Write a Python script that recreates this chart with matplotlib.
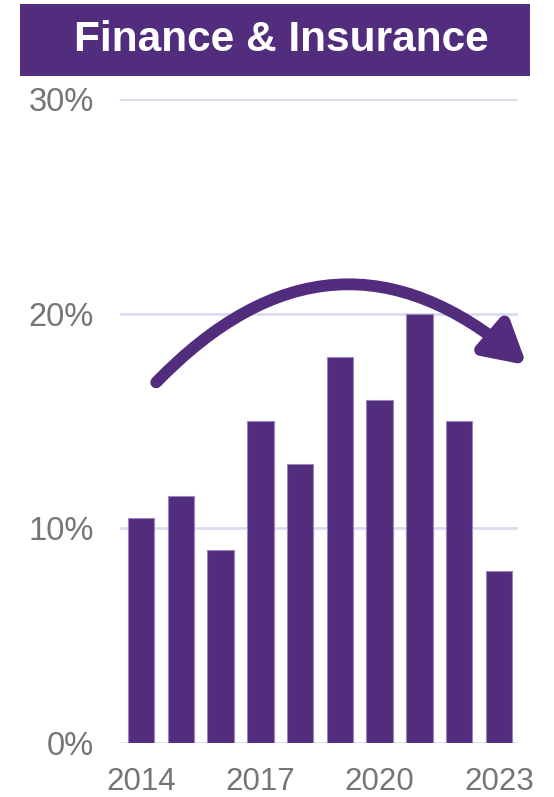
import matplotlib
matplotlib.use("Agg")
import matplotlib.pyplot as plt
from matplotlib.patches import Rectangle
from matplotlib.ticker import FuncFormatter

years = [2014, 2015, 2016, 2017, 2018, 2019, 2020, 2021, 2022, 2023]
values = [10.5, 11.5, 9.0, 15.0, 13.0, 18.0, 16.0, 20.0, 15.0, 8.0]
shown_years = [2014, 2017, 2020, 2023]
y_ticks = [0, 10, 20, 30]
title = "Finance & Insurance"

purple = "#522D7E"
grid_c = "#DCDCF2"
text_c = "#757575"

plt.rcParams['font.family'] = ['Liberation Sans', 'DejaVu Sans']

W, H = 554, 797
fig = plt.figure(figsize=(W / 100, H / 100), dpi=100)
ax = fig.add_axes([120 / W, 1 - 743 / H, (518 - 120) / W, (743 - 99) / H])

x = list(range(len(years)))
ax.bar(x, values, width=0.67, color=purple, edgecolor="#9A86BA", linewidth=0.8, zorder=3)

ax.set_ylim(0, 30)
ax.set_xlim(-0.53, len(years) - 1 + 0.48)
ax.set_yticks(y_ticks)
ax.yaxis.set_major_formatter(FuncFormatter(lambda v, p: f"{int(v)}%"))
ax.set_xticks([years.index(y) for y in shown_years])
ax.set_xticklabels([str(y) for y in shown_years])
ax.tick_params(axis='both', length=0, colors=text_c)
ax.tick_params(axis='y', pad=19, labelsize=23.5)
ax.tick_params(axis='x', pad=17, labelsize=22.5)
for s in ax.spines.values():
    s.set_visible(False)
ax.grid(axis='y', color=grid_c, linewidth=2, zorder=0)
ax.set_axisbelow(True)

# curved arrow annotation
ax.annotate("", xy=(9.7, 17.6), xytext=(0.38, 16.8),
            arrowprops=dict(arrowstyle="-|>,head_length=2.4,head_width=1.35",
                            connectionstyle="arc3,rad=-0.47",
                            color=purple, lw=8.5, shrinkA=0, shrinkB=0),
            annotation_clip=False, zorder=5)

# title banner
fig.patches.append(Rectangle((20 / W, 1 - 76 / H), (530 - 20) / W, (76 - 4) / H,
                             transform=fig.transFigure, facecolor=purple,
                             edgecolor="none"))
fig.text(281 / W, 1 - 40 / H, title, color="white", fontsize=30.5,
         fontweight="bold", ha="center", va="center")

fig.savefig("out.png", dpi=100)
